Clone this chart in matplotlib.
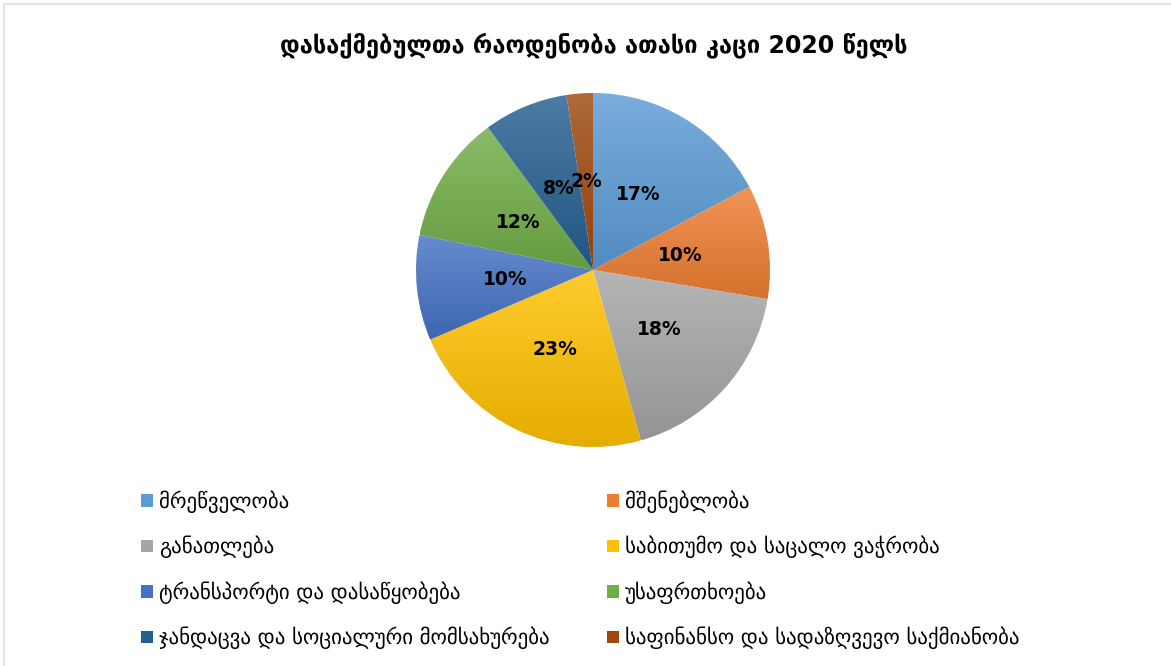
import matplotlib.pyplot as plt
import numpy as np
from matplotlib.colors import to_rgb
from matplotlib.patches import Rectangle

title = "დასაქმებულთა რაოდენობა ათასი კაცი 2020 წელს"
sectors = ["მრეწველობა", "მშენებლობა", "განათლება", "საბითუმო და საცალო ვაჭრობა",
           "ტრანსპორტი და დასაწყობება", "უსაფრთხოება",
           "ჯანდაცვა და სოციალური მომსახურება", "საფინანსო და სადაზღვევო საქმიანობა"]
shares = [17.2, 10.4, 18.0, 22.9, 9.6, 11.7, 7.7, 2.4]
colours = ["#5b9bd5", "#ed7d31", "#a5a5a5", "#ffc000", "#4472c4", "#70ad47", "#255e91", "#9e480e"]

plt.rcParams['font.family'] = ['DejaVu Sans']

fig = plt.figure(figsize=(11.71, 6.66), dpi=100)
fig.patches.append(Rectangle((4 / 1171, -0.1), 1.2, (666 - 4) / 666 + 0.1, transform=fig.transFigure,
                             fill=False, edgecolor="#d9dee6", linewidth=1.2))

ax = fig.add_axes([416 / 1171, 219 / 666, 354 / 1171, 354 / 666])
wedges, texts, autotexts = ax.pie(shares, colors=colours, startangle=90, counterclock=False,
                                  autopct='%.0f%%', pctdistance=0.5,
                                  wedgeprops=dict(edgecolor='white', linewidth=0.8),
                                  textprops=dict(fontsize=13.5, fontweight='bold', color='black'))
ax.set_aspect('equal')
ax.axis('off')

# excel-like gradient: lighter top, darker bottom
for w, c in zip(wedges, colours):
    base = np.array(to_rgb(c))
    top = base + (1 - base) * 0.18
    bottom = base * 0.9
    grad = np.linspace(0, 1, 256)[:, None]
    img = top[None, None, :] * (1 - grad[..., None]) + bottom[None, None, :] * grad[..., None]
    ext = w.get_path().get_extents()
    im = ax.imshow(img, extent=[ext.x0, ext.x1, ext.y0, ext.y1], origin='upper',
                   aspect='auto', zorder=w.get_zorder() + 0.1, interpolation='bilinear')
    im.set_clip_path(w)
    w.set_facecolor('none')
for t in autotexts:
    t.set_zorder(5)
ax.set_xlim(-1, 1)
ax.set_ylim(-1, 1)

fig.text(594 / 1171, 1 - 45 / 666, title, ha='center', va='center', fontsize=17, fontweight='bold')

handles = [Rectangle((0, 0), 1, 1, facecolor=c) for c in colours]
for col, x in enumerate([133, 599]):
    idx = list(range(col, len(sectors), 2))
    fig.legend([handles[i] for i in idx], [sectors[i] for i in idx],
               loc='upper left', bbox_to_anchor=(x / 1171, 1 - 482 / 666),
               frameon=False, fontsize=15, handlelength=0.55, handleheight=0.55,
               handletextpad=0.3, labelspacing=1.1, borderaxespad=0)

fig.savefig("out.png", dpi=100)
